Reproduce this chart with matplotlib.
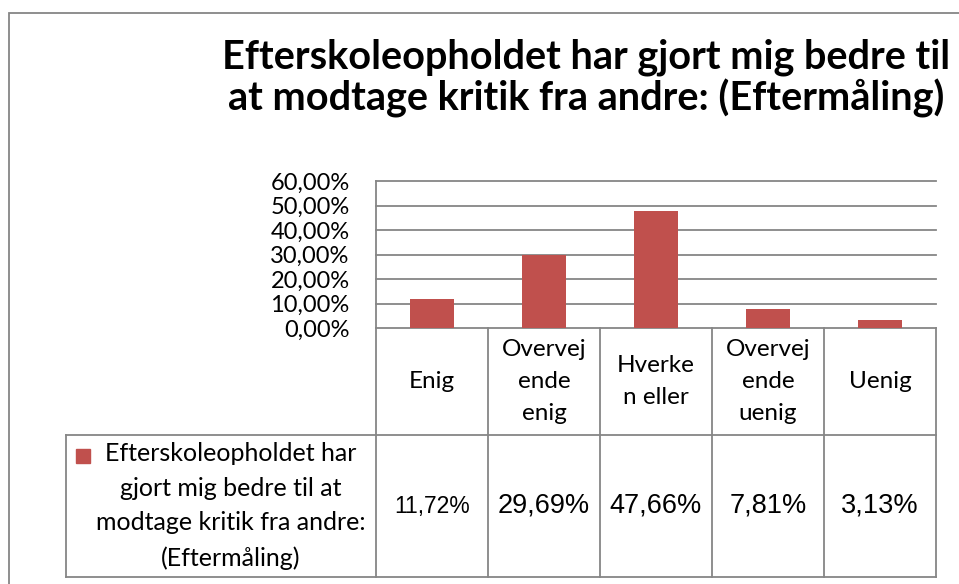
import matplotlib
matplotlib.use('Agg')
import matplotlib.pyplot as plt
from matplotlib.patches import Rectangle
from matplotlib.transforms import blended_transform_factory
from matplotlib.ticker import FuncFormatter

# data
title_lines = ["Efterskoleopholdet har gjort mig bedre til",
               "at modtage kritik fra andre: (Eftermåling)"]
series_name = "Efterskoleopholdet har\ngjort mig bedre til at\nmodtage kritik fra andre:\n(Eftermåling)"
category_labels = ["Enig", "Overvej\nende\nenig", "Hverke\nn eller", "Overvej\nende\nuenig", "Uenig"]
values = [0.1172, 0.2969, 0.4766, 0.0781, 0.0313]
y_ticks = [0.0, 0.1, 0.2, 0.3, 0.4, 0.5, 0.6]

BAR = '#C0504D'
GRID = '#868686'
FONT = 'Lato'

W, H = 959, 584
fig = plt.figure(figsize=(W / 100, H / 100), dpi=100)


def fx(px):
    return px / W


def fy(py):
    return 1 - py / H


def pct(v):
    return f"{v * 100:.2f}%".replace('.', ',')


# outer chart border (right/bottom run off the image)
fig.add_artist(Rectangle((fx(9), -0.1), 1.2, fy(13) + 0.1, transform=fig.transFigure,
                         fill=False, ec=GRID, lw=1.3))

# title
fig.text(fx(586), fy(68), title_lines[0], ha='center', va='baseline',
         fontsize=28.5, weight='bold', family=FONT)
fig.text(fx(586), fy(111), title_lines[1], ha='center', va='baseline',
         fontsize=28.5, weight='bold', family=FONT)

# plot area
ax = fig.add_axes([fx(376), fy(328), fx(936) - fx(376), fy(181) - fy(328)])
x = list(range(len(values)))
ax.bar(x, values, width=0.4, color=BAR, zorder=3)
ax.set_xlim(-0.5, len(values) - 0.5)
ax.set_ylim(0, 0.6)
ax.set_yticks(y_ticks)
ax.yaxis.set_major_formatter(FuncFormatter(lambda v, p: pct(v)))
ax.grid(axis='y', color=GRID, lw=1.3)
for gl in ax.get_ygridlines():
    gl.set_clip_on(False)
ax.set_axisbelow(True)
for s in ['top', 'right', 'bottom']:
    ax.spines[s].set_visible(False)
ax.spines['left'].set_color(GRID)
ax.spines['left'].set_linewidth(1.3)
ax.tick_params(axis='y', length=0, pad=19, labelsize=17)
ax.tick_params(axis='x', bottom=False, labelbottom=False)
for lab in ax.get_yticklabels():
    lab.set_family(FONT)

# data table under the plot
tb = fig.add_axes([fx(66), fy(577), fx(936) - fx(66), fy(328) - fy(577)])
tb.axis('off')
tb.set_xlim(0, 1)
tb.set_ylim(0, 1)
blend = blended_transform_factory(ax.transData, tb.transAxes)
split = (577 - 435) / (577 - 328)

line_kw = dict(color=GRID, lw=1.3, clip_on=False)
for i in range(len(values) + 1):
    tb.plot([i - 0.5, i - 0.5], [0, 1], transform=blend, **line_kw)
tb.plot([0, 1], [split, split], transform=tb.transAxes, **line_kw)
tb.plot([0, 1], [0, 0], transform=tb.transAxes, **line_kw)
tb.plot([0, 0], [0, split], transform=tb.transAxes, **line_kw)

for i, lab in enumerate(category_labels):
    tb.text(i, (1 + split) / 2, lab, transform=blend, ha='center', va='center',
            fontsize=17.5, family=FONT, linespacing=1.62)

val_sizes = [16.5, 19.5, 19.5, 19.5, 19.5]
for i, v in enumerate(values):
    tb.text(i, split / 2, pct(v), transform=blend, ha='center', va='center',
            fontsize=val_sizes[i], family='Liberation Sans')

# legend key inside the table
tb.add_patch(Rectangle(((76 - 66) / 870, (577 - 463) / 249), 14 / 870, 14 / 249,
                       transform=tb.transAxes, color=BAR, clip_on=False))
tb.text((231 - 66) / 870, split / 2, series_name, transform=tb.transAxes,
        ha='center', va='center', fontsize=18, family=FONT, linespacing=1.62)

fig.savefig('out.png', dpi=100)
